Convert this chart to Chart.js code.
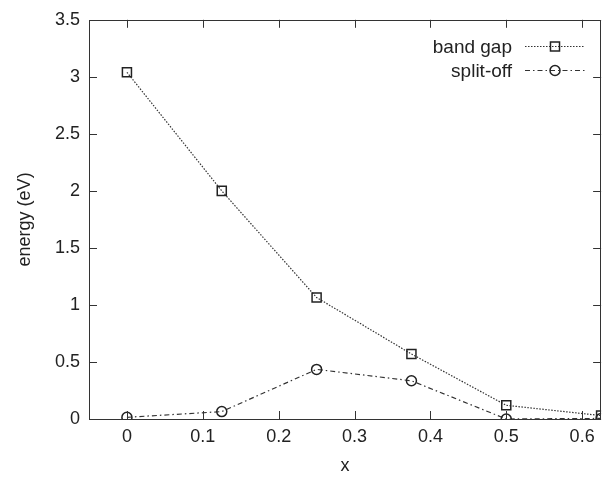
<!DOCTYPE html>
<html>
<head>
<meta charset="utf-8">
<script src="https://cdn.jsdelivr.net/npm/chart.js@4/dist/chart.umd.min.js"></script>
<style>
  html, body { margin: 0; padding: 0; background: #fff; }
  #wrap { width: 609px; height: 477px; }
</style>
</head>
<body>
<div id="wrap"><canvas id="c" width="609" height="477"></canvas></div>
<script>
const xValues = [0, 0.125, 0.25, 0.375, 0.5, 0.625];
const bandGap = [3.04, 2.0, 1.065, 0.57, 0.12, 0.03];
const splitOff = [0.015, 0.065, 0.435, 0.335, 0.0, 0.005];
const seriesNames = ['band gap', 'split-off'];
const xTicks = [0, 0.1, 0.2, 0.3, 0.4, 0.5, 0.6];
const yTicks = [0, 0.5, 1, 1.5, 2, 2.5, 3, 3.5];
const xTitle = 'x';
const yTitle = 'energy (eV)';

const FONT = 'Liberation Sans, Arial, Helvetica, sans-serif';
const INK = '#222';

const toPts = (ys) => xValues.map((x, i) => ({x: x, y: ys[i]}));

const frameTicks = {
  id: 'frameTicks',
  afterDatasetsDraw(chart) {
    const {ctx, chartArea: a, scales} = chart;
    ctx.save();
    ctx.strokeStyle = '#333';
    ctx.lineWidth = 1;
    ctx.setLineDash([]);
    ctx.beginPath();
    ctx.rect(Math.round(a.left) + 0.5, Math.round(a.top) + 0.5,
             Math.round(a.right - a.left) - 1, Math.round(a.bottom - a.top));
    const L = 8;
    scales.x.ticks.forEach(t => {
      const px = Math.round(scales.x.getPixelForValue(t.value)) + 0.5;
      ctx.moveTo(px, a.bottom); ctx.lineTo(px, a.bottom - L);
      ctx.moveTo(px, a.top); ctx.lineTo(px, a.top + L);
    });
    scales.y.ticks.forEach(t => {
      const py = Math.round(scales.y.getPixelForValue(t.value)) + 0.5;
      ctx.moveTo(a.left, py); ctx.lineTo(a.left + L, py);
      ctx.moveTo(a.right, py); ctx.lineTo(a.right - L, py);
    });
    ctx.stroke();

    // gnuplot-style key: text right-aligned, then line sample with marker
    const textRight = 512, x0 = 525, x1 = 585, rowY = [48, 72];
    ctx.font = '19px ' + FONT;
    ctx.textAlign = 'right';
    ctx.textBaseline = 'middle';
    chart.data.datasets.forEach((ds, i) => {
      const y = rowY[i];
      ctx.fillStyle = INK;
      ctx.fillText(ds.label, textRight, y);
      ctx.strokeStyle = ds.borderColor;
      ctx.lineWidth = ds.borderWidth;
      ctx.setLineDash(ds.borderDash);
      ctx.beginPath();
      ctx.moveTo(x0, y - 1.5); ctx.lineTo(x1, y - 1.5);
      ctx.stroke();
      ctx.setLineDash([]);
      ctx.lineWidth = ds.pointBorderWidth;
      ctx.strokeStyle = ds.pointBorderColor;
      ctx.fillStyle = 'rgba(0,0,0,0)';
      Chart.helpers.drawPoint(ctx, {pointStyle: ds.pointStyle, radius: ds.pointRadius, rotation: 0, borderWidth: ds.pointBorderWidth}, (x0 + x1) / 2, y - 1.5);
    });
    ctx.restore();
  }
};

new Chart(document.getElementById('c'), {
  type: 'line',
  data: {
    datasets: [
      {
        label: seriesNames[0],
        data: toPts(bandGap),
        borderColor: '#333',
        borderWidth: 1.2,
        borderDash: [1.5, 1.5],
        pointStyle: 'rect',
        pointRadius: 6.4,
        pointBorderWidth: 1.5,
        pointBorderColor: '#222',
        pointBackgroundColor: 'rgba(0,0,0,0)',
        fill: false,
        tension: 0
      },
      {
        label: seriesNames[1],
        data: toPts(splitOff),
        borderColor: '#333',
        borderWidth: 1.2,
        borderDash: [5, 3, 1.5, 3],
        pointStyle: 'circle',
        pointRadius: 5,
        pointBorderWidth: 1.5,
        pointBorderColor: '#222',
        pointBackgroundColor: 'rgba(0,0,0,0)',
        fill: false,
        tension: 0
      }
    ]
  },
  options: {
    responsive: false,
    animation: false,
    devicePixelRatio: 1,
    layout: { padding: { top: 18, right: 1, left: 0, bottom: 0 } },
    plugins: {
      legend: { display: false },
      tooltip: { enabled: false }
    },
    elements: { point: { hitRadius: 0 } },
    scales: {
      x: {
        type: 'linear',
        min: -0.05,
        max: 0.625,
        afterBuildTicks: (s) => { s.ticks = xTicks.map(v => ({value: v})); },
        afterFit: (s) => { s.height = 58; },
        grid: { display: false, drawTicks: false },
        border: { display: false },
        ticks: {
          color: INK,
          font: { family: FONT, size: 18 },
          padding: 7,
          maxRotation: 0,
          autoSkip: false,
          callback: (v) => String(v)
        },
        title: {
          display: true,
          text: xTitle,
          color: INK,
          font: { family: FONT, size: 18 },
          padding: { top: 0, bottom: 0 }
        }
      },
      y: {
        type: 'linear',
        min: 0,
        max: 3.5,
        afterBuildTicks: (s) => { s.ticks = yTicks.map(v => ({value: v})); },
        afterFit: (s) => { s.width = 89; },
        grid: { display: false, drawTicks: false },
        border: { display: false },
        ticks: {
          color: INK,
          font: { family: FONT, size: 18 },
          padding: 9,
          autoSkip: false,
          callback: (v) => String(v)
        },
        title: {
          display: true,
          text: yTitle,
          color: INK,
          font: { family: FONT, size: 18 },
          padding: { top: 14, bottom: 0 }
        }
      }
    }
  },
  plugins: [frameTicks]
});
</script>
</body>
</html>
